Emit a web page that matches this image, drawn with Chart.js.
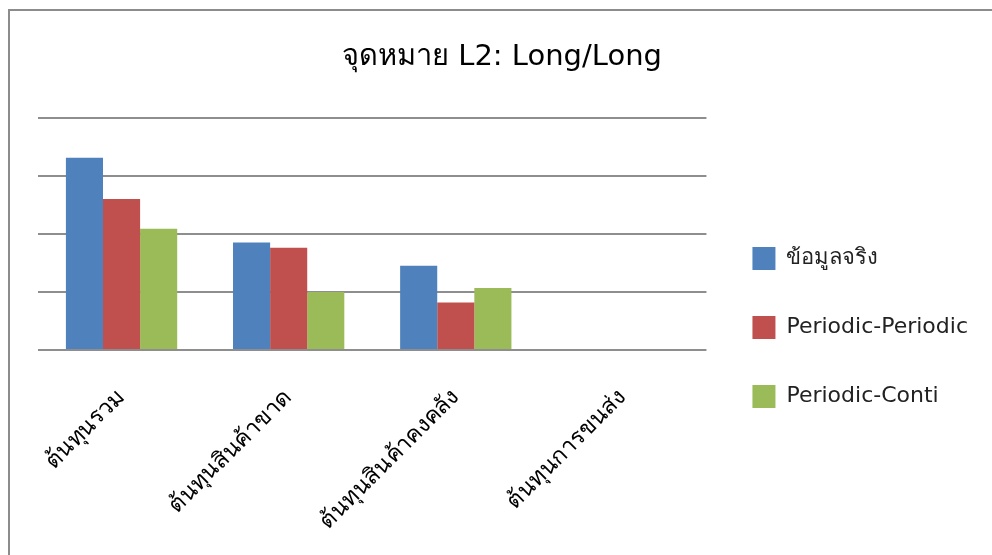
<!DOCTYPE html>
<html>
<head>
<meta charset="utf-8">
<script src="https://cdn.jsdelivr.net/npm/chart.js@4.4.1/dist/chart.umd.min.js"></script>
<style>
  html, body { margin: 0; padding: 0; background: #ffffff; }
  #wrap { width: 992px; height: 555px; position: relative; }
</style>
</head>
<body>
<div id="wrap"><canvas id="c" width="992" height="555"></canvas></div>
<script>
// Cost categories (x axis)
const categories = ['ต้นทุนรวม', 'ต้นทุนสินค้าขาด', 'ต้นทุนสินค้าคงคลัง', 'ต้นทุนการขนส่ง'];
// Series values
const actualData = [3.31, 1.85, 1.45, 0];
const periodicPeriodic = [2.60, 1.76, 0.82, 0];
const periodicConti = [2.09, 1.00, 1.07, 0];
const seriesNames = ['ข้อมูลจริง', 'Periodic-Periodic', 'Periodic-Conti'];
// Value axis (gridlines only, labels hidden)
const yTicks = [0, 1, 2, 3, 4];

const FONT = "'DejaVu Sans', 'Liberation Sans', sans-serif";

// Frame line around the chart object
const framePlugin = {
  id: 'frame',
  beforeDraw(chart) {
    const ctx = chart.ctx;
    ctx.save();
    ctx.fillStyle = '#ffffff';
    ctx.fillRect(0, 0, chart.width, chart.height);
    ctx.strokeStyle = '#8c8c8c';
    ctx.lineWidth = 2;
    ctx.strokeRect(9, 10, chart.width + 20, chart.height + 20);
    ctx.restore();
  }
};

new Chart(document.getElementById('c'), {
  type: 'bar',
  data: {
    labels: categories,
    datasets: [
      { label: seriesNames[0], data: actualData, backgroundColor: '#4f81bd' },
      { label: seriesNames[1], data: periodicPeriodic, backgroundColor: '#c0504d' },
      { label: seriesNames[2], data: periodicConti, backgroundColor: '#9bbb59' }
    ]
  },
  options: {
    responsive: false,
    animation: false,
    devicePixelRatio: 1,
    layout: { padding: { left: 26, right: 14, top: 9, bottom: 0 } },
    datasets: {
      bar: { barPercentage: 1.0, categoryPercentage: 0.666, borderWidth: 0 }
    },
    plugins: {
      title: {
        display: true,
        text: 'จุดหมาย L2: Long/Long',
        color: '#000000',
        font: { family: FONT, size: 29, weight: 'normal' },
        padding: { top: 31, bottom: 43 }
      },
      legend: {
        position: 'right',
        maxWidth: 320,
        title: { display: true, text: '', font: { size: 10 }, padding: { top: 79, bottom: 0 } },
        labels: {
          color: '#222222',
          font: { family: FONT, size: 22 },
          boxWidth: 23,
          boxHeight: 23,
          padding: 46
        }
      },
      tooltip: { enabled: false }
    },
    scales: {
      x: {
        grid: { display: false, drawTicks: false },
        border: { display: false },
        ticks: {
          color: '#000000',
          font: { family: FONT, size: 23 },
          minRotation: 45,
          maxRotation: 45,
          padding: 34,
          autoSkip: false
        },
        afterFit(scale) { scale.height = 205; }
      },
      y: {
        min: yTicks[0],
        max: yTicks[yTicks.length - 1],
        afterBuildTicks(scale) { scale.ticks = yTicks.map(v => ({ value: v })); },
        afterFit(scale) { scale.width = 12; },
        ticks: { display: false },
        grid: { color: '#8e8e8e', lineWidth: 2, drawTicks: false },
        border: { display: false }
      }
    }
  },
  plugins: [framePlugin]
});
</script>
</body>
</html>
